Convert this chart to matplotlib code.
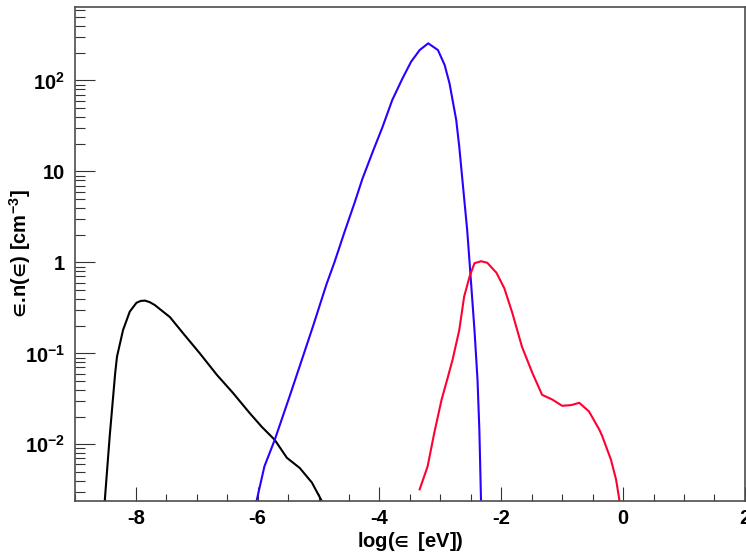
import matplotlib
matplotlib.use("Agg")
import matplotlib.pyplot as plt
from matplotlib.ticker import FixedLocator, LogLocator, NullFormatter

# curves (x = log10 energy, y = e.n(e))
black_x = [-8.52, -8.43, -8.34, -8.31, -8.21, -8.10, -7.99, -7.92, -7.85, -7.77,
           -7.69, -7.44, -7.23, -6.95, -6.67, -6.41, -6.13, -5.93, -5.72, -5.52,
           -5.31, -5.11, -4.95, -4.92]
black_y = [0.0020, 0.0122, 0.0605, 0.092, 0.181, 0.288, 0.36, 0.377, 0.38, 0.365,
           0.34, 0.25, 0.168, 0.100, 0.058, 0.037, 0.022, 0.0155, 0.0112, 0.0071,
           0.0055, 0.0038, 0.0024, 0.0021]

blue_x = [-6.03, -5.89, -5.72, -5.48, -5.26, -5.09, -4.87, -4.74, -4.57, -4.41,
          -4.28, -4.11, -3.95, -3.79, -3.62, -3.48, -3.34, -3.20, -3.04, -2.93,
          -2.85, -2.80, -2.74, -2.69, -2.62, -2.56, -2.52, -2.44, -2.39, -2.36, -2.33]
blue_y = [0.0022, 0.0057, 0.0112, 0.033, 0.091, 0.20, 0.575, 1.0, 2.2, 4.5,
          8.3, 16.5, 30.8, 61, 106, 161, 216, 256, 216, 148,
          93, 61, 36.8, 18.7, 6.0, 2.27, 0.99, 0.18, 0.051, 0.0145, 0.0020]

red_x = [-3.34, -3.21, -3.10, -3.05, -2.98, -2.89, -2.80, -2.69, -2.61, -2.52,
         -2.44, -2.33, -2.23, -2.08, -1.95, -1.82, -1.66, -1.49, -1.33, -1.16,
         -1.00, -0.85, -0.72, -0.56, -0.39, -0.34, -0.20, -0.115, -0.05]
red_y = [0.0032, 0.0057, 0.0134, 0.019, 0.031, 0.051, 0.085, 0.18, 0.42, 0.70,
         0.98, 1.03, 0.99, 0.77, 0.52, 0.28, 0.118, 0.061, 0.035, 0.031,
         0.0265, 0.027, 0.0286, 0.023, 0.0145, 0.0122, 0.0068, 0.0041, 0.0022]

x_ticks = [-8, -6, -4, -2, 0, 2]
x_tick_labels = ["-8", "-6", "-4", "-2", "0", "2"]
y_ticks = [1e-2, 1e-1, 1, 10, 100]
y_tick_labels = [r"$10^{-2}$", r"$10^{-1}$", "1", "10", r"$10^{2}$"]

plt.rcParams["font.family"] = ["Liberation Sans", "DejaVu Sans"]
plt.rcParams["font.weight"] = "bold"
plt.rcParams["mathtext.fontset"] = "custom"
plt.rcParams["mathtext.rm"] = "Liberation Sans:bold"
plt.rcParams["mathtext.it"] = "Liberation Sans:bold"
plt.rcParams["mathtext.bf"] = "Liberation Sans:bold"
plt.rcParams["mathtext.sf"] = "Liberation Sans:bold"
plt.rcParams["mathtext.fallback"] = "stixsans"

fig = plt.figure(figsize=(7.46, 5.57), dpi=100)
ax = fig.add_axes([0.1005, 0.1005, 0.898, 0.887])

ax.plot(black_x, black_y, color="black", linewidth=1.5)
ax.plot(blue_x, blue_y, color="#2a00ff", linewidth=1.5)
ax.plot(red_x, red_y, color="#ff0030", linewidth=1.5)

ax.set_yscale("log")
ax.set_xlim(-9, 2)
ax.set_ylim(0.00238, 643)

ax.xaxis.set_major_locator(FixedLocator(x_ticks))
ax.set_xticklabels(x_tick_labels)
ax.xaxis.set_minor_locator(FixedLocator([v / 2 for v in range(-18, 5)]))
ax.yaxis.set_major_locator(FixedLocator(y_ticks))
ax.set_yticklabels(y_tick_labels)
ax.yaxis.set_minor_locator(LogLocator(base=10, subs=range(2, 10)))
ax.yaxis.set_minor_formatter(NullFormatter())

ax.tick_params(axis="both", which="both", direction="in", width=0.8, color="#333333",
               labelsize=14.5, top=False, right=False)
ax.tick_params(axis="x", which="major", length=10, pad=6)
ax.tick_params(axis="x", which="minor", length=5)
ax.tick_params(axis="y", which="major", length=14.4, pad=7)
ax.tick_params(axis="y", which="minor", length=7.2)

for spine in ax.spines.values():
    spine.set_color("#4d4d4d")
    spine.set_linewidth(1.2)

# the literal ∈ avoids mathtext's relation spacing around \in
ax.set_xlabel("$log(∈\\ \\,[eV])$", fontsize=14.5)
ax.set_ylabel("$∈.\\!n(∈)\\ [cm^{-3}]$", fontsize=14.5)
ax.xaxis.set_label_coords(0.5, -0.058)
ax.yaxis.set_label_coords(-0.062, 0.5)

fig.savefig("out.png", dpi=100)
